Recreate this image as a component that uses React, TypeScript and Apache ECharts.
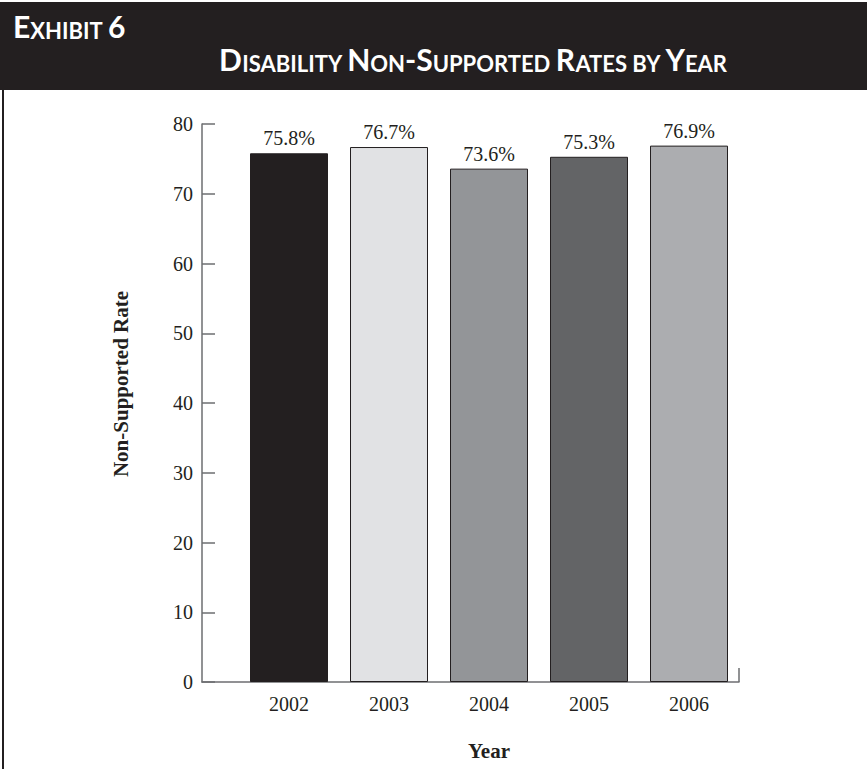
import { useEffect, useRef } from "react";
import * as echarts from "echarts";

// Data
const years = [2002, 2003, 2004, 2005, 2006];
const rates = [75.8, 76.7, 73.6, 75.3, 76.9];
const yMin = 0;
const yMax = 80;
const yStep = 10;

// Texts
const exhibitText = "Exhibit 6";
const titleText = "Disability Non-Supported Rates by Year";
const yAxisName = "Non-Supported Rate";
const xAxisName = "Year";

// Styles
const barPalette = ["#231f20", "#e1e2e4", "#939598", "#636466", "#acadb0"];
const ink = "#231f20";
const axisGray = "#6d6e71";
const serif = "'Liberation Serif', 'Times New Roman', serif";
const sans = "Lato, 'Open Sans', sans-serif";

// Turns mixed-case text into small-caps rich text: capitals and digits
// use the large style, lowercase letters are uppercased in the small style.
function smallCaps(s: string): string {
  let out = "";
  let run = "";
  let runStyle = "";
  for (const ch of s) {
    let style: string;
    if (ch === " ") style = runStyle || "b";
    else style = ch >= "a" && ch <= "z" ? "s" : "b";
    if (style !== runStyle && run) {
      out += `{${runStyle}|${run}}`;
      run = "";
    }
    runStyle = style;
    run += ch.toUpperCase();
  }
  if (run) out += `{${runStyle}|${run}}`;
  return out;
}

function capsRich(big: number, small: number) {
  return {
    b: { fontSize: big, lineHeight: big, fontWeight: "bold", fontFamily: sans, fill: "#ffffff", verticalAlign: "bottom" },
    s: { fontSize: small, lineHeight: big, fontWeight: "bold", fontFamily: sans, fill: "#ffffff", verticalAlign: "bottom" },
  };
}

export default function App() {
  const ref = useRef<HTMLDivElement>(null);

  useEffect(() => {
    if (!ref.current) return;
    const chart = echarts.init(ref.current, undefined, { renderer: "svg" });

    const option = {
      animation: false,
      backgroundColor: "#ffffff",
      grid: { left: 202, top: 124, width: 537, height: 558 },
      xAxis: {
        type: "value",
        min: 2001.13,
        max: 2006.5,
        axisLine: { show: true, onZero: false, lineStyle: { color: axisGray, width: 1.5 } },
        axisTick: {
          show: true,
          inside: true,
          length: 14,
          customValues: [2006.5],
          lineStyle: { color: axisGray, width: 1.5 },
        },
        axisLabel: {
          customValues: years,
          formatter: (v: number) => String(v),
          margin: 12,
          fontFamily: serif,
          fontSize: 20,
          color: ink,
        },
        splitLine: { show: false },
      },
      yAxis: {
        type: "value",
        min: yMin,
        max: yMax,
        interval: yStep,
        axisLine: { show: true, onZero: false, lineStyle: { color: axisGray, width: 1.5 } },
        axisTick: { show: true, inside: true, length: 13, lineStyle: { color: axisGray, width: 1.5 } },
        axisLabel: { margin: 9, fontFamily: serif, fontSize: 20, color: ink },
        splitLine: { show: false },
      },
      series: [
        {
          type: "bar",
          barWidth: 78,
          data: years.map((y, i) => ({
            value: [y, rates[i]],
            itemStyle: { color: barPalette[i] },
          })),
          itemStyle: { borderColor: ink, borderWidth: 1 },
          label: {
            show: true,
            position: "top",
            distance: 5,
            formatter: (p: any) => `${p.value[1].toFixed(1)}%`,
            fontFamily: serif,
            fontSize: 20,
            color: ink,
          },
        },
      ],
      graphic: [
        {
          type: "rect",
          shape: { x: 0, y: 2, width: 867, height: 88 },
          style: { fill: ink },
        },
        {
          type: "rect",
          shape: { x: 2, y: 90, width: 2, height: 679 },
          style: { fill: ink },
        },
        {
          type: "text",
          x: 13,
          y: 11,
          style: {
            text: smallCaps(exhibitText),
            rich: capsRich(30, 22),
            textAlign: "left",
            textVerticalAlign: "top",
          },
        },
        {
          type: "text",
          x: 473,
          y: 44,
          style: {
            text: smallCaps(titleText),
            rich: capsRich(30, 22),
            textAlign: "center",
            textVerticalAlign: "top",
          },
        },
        {
          type: "text",
          x: 121,
          y: 384,
          rotation: Math.PI / 2,
          style: {
            text: yAxisName,
            fontFamily: serif,
            fontWeight: "bold",
            fontSize: 21,
            fill: ink,
            textAlign: "center",
            textVerticalAlign: "middle",
          },
        },
        {
          type: "text",
          x: 489,
          y: 751,
          style: {
            text: xAxisName,
            fontFamily: serif,
            fontWeight: "bold",
            fontSize: 21,
            fill: ink,
            textAlign: "center",
            textVerticalAlign: "middle",
          },
        },
      ],
    };

    chart.setOption(option as any);
    return () => chart.dispose();
  }, []);

  return (
    <div
      ref={ref}
      style={{ position: "absolute", left: 0, top: 0, width: 867, height: 769 }}
    />
  );
}
